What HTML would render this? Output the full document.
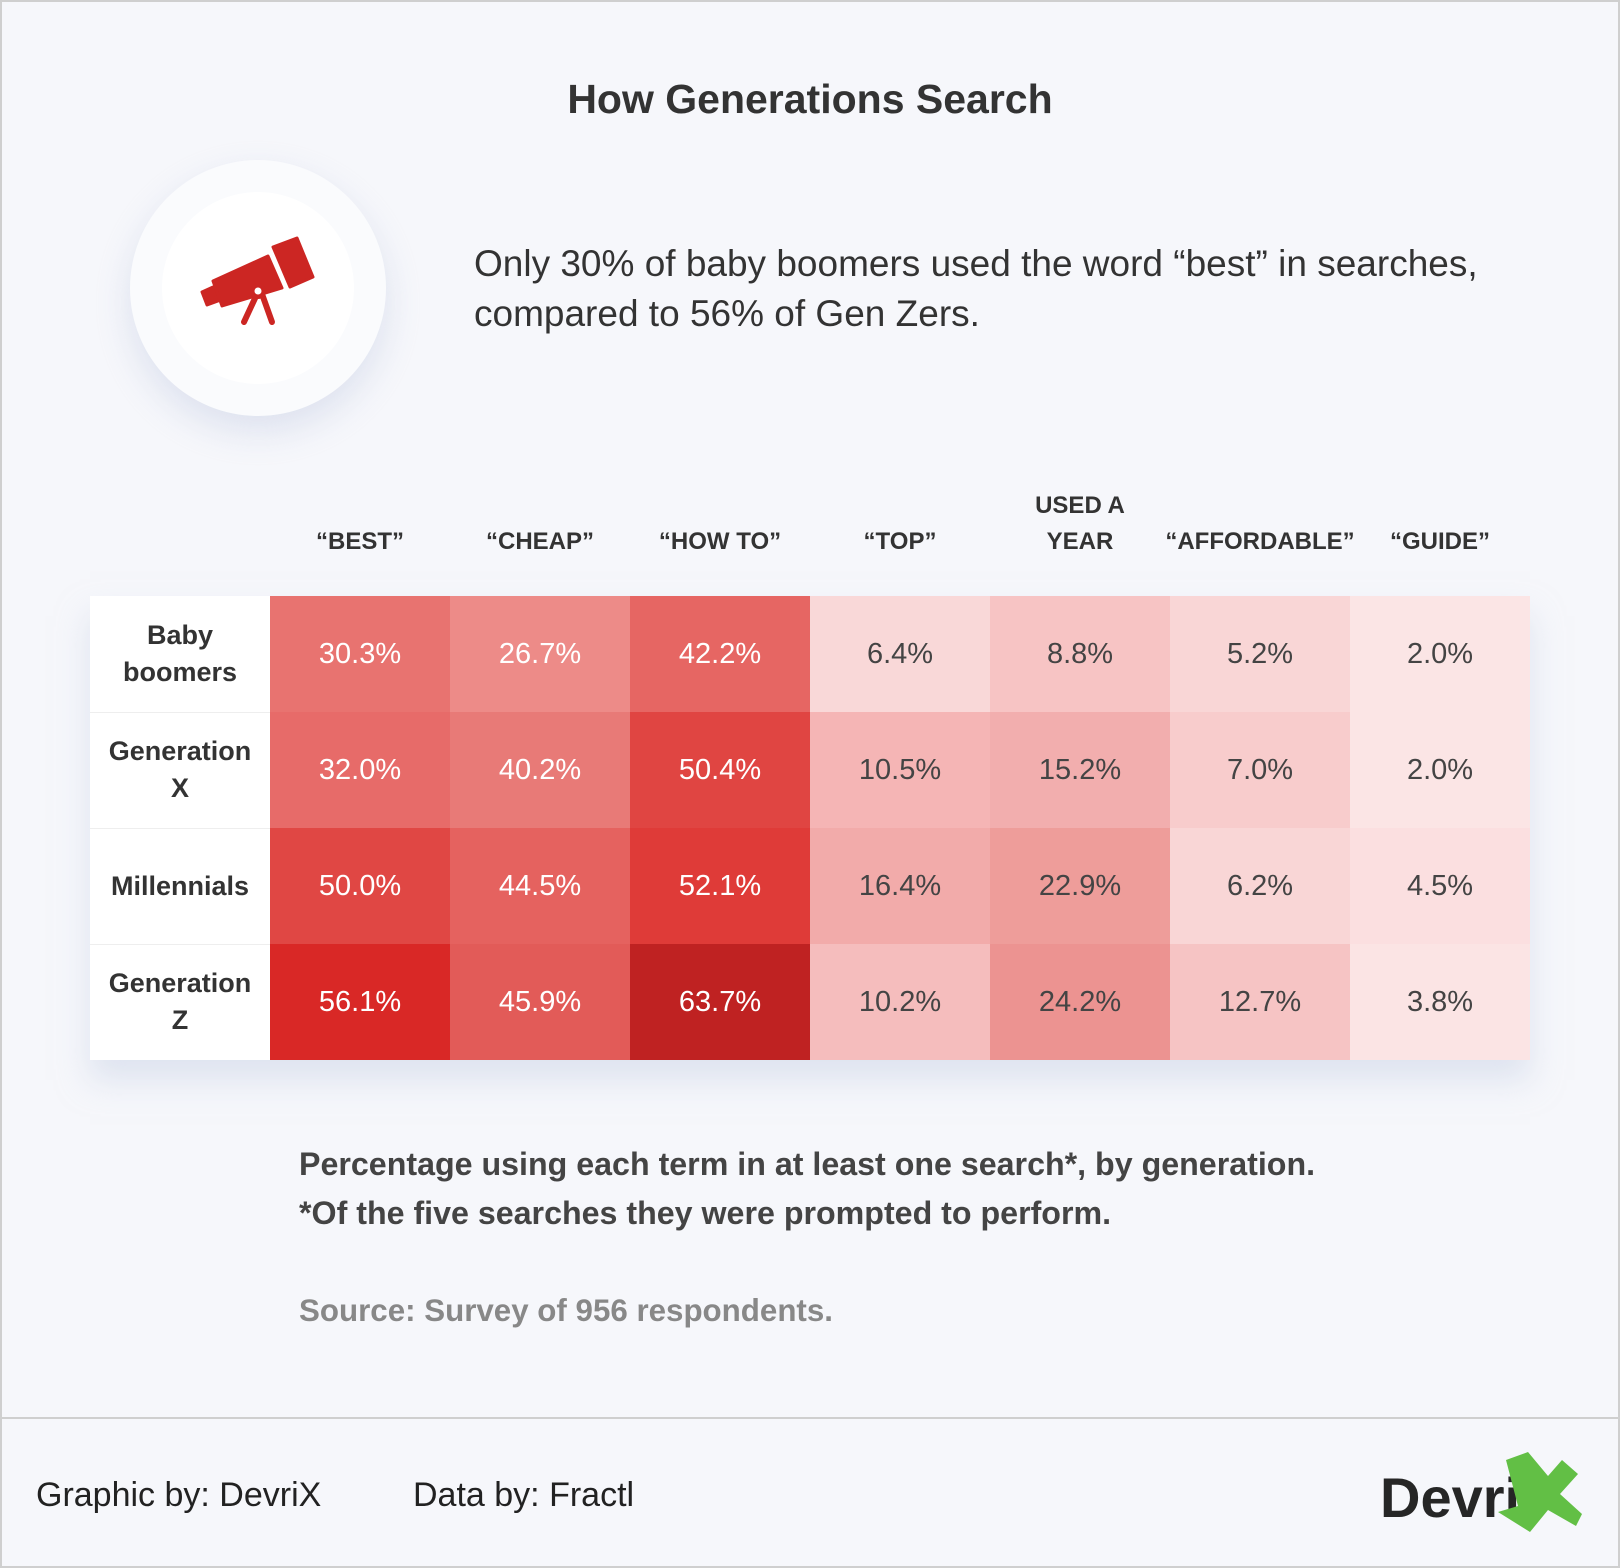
<!DOCTYPE html>
<html><head><meta charset="utf-8"><style>
*{margin:0;padding:0;box-sizing:border-box}
body{width:1620px;height:1568px;background:#f6f7fb;font-family:"Liberation Sans",sans-serif;color:#333;position:relative;overflow:hidden}
.frame{position:absolute;left:0;top:0;width:1620px;height:1568px;border:2px solid #cfcfcf}
.abs{position:absolute}
.title{top:76px;left:0;width:1620px;text-align:center;font-size:41px;font-weight:bold;color:#333}
.sub{left:474px;top:239px;font-size:37px;line-height:50px;color:#333}
.hd{position:absolute;width:180px;text-align:center;font-size:24px;font-weight:bold;color:#333;line-height:36px}
table{position:absolute;left:90px;top:596px;border-collapse:collapse;box-shadow:0 20px 30px rgba(200,210,230,.5)}
td{width:180px;height:116px;text-align:center;font-size:29px;color:#fff}
td.l{background:#fff;color:#333;font-weight:bold;font-size:27px;line-height:37px;border-bottom:1px solid #eee}
td.d{color:#444}
.cap{left:299px;top:1140px;font-size:32.2px;font-weight:bold;line-height:49px;color:#444}
.src{left:299px;top:1293px;font-size:31.3px;font-weight:bold;color:#888}
.line{left:0;top:1417px;width:1620px;height:2px;background:#cfcfcf}
.ft{top:1476px;font-size:34px;color:#222}
</style></head><body>
<div class="frame"></div>
<div class="abs title">How Generations Search</div>
<div class="abs" style="left:130px;top:160px;width:256px;height:256px;border-radius:50%;background:#fafbfd;box-shadow:0 15px 35px rgba(190,200,225,.45)"></div>
<div class="abs" style="left:162px;top:192px;width:192px;height:192px;border-radius:50%;background:#fff"></div>
<svg class="abs" style="left:0;top:0" width="400" height="400" viewBox="0 0 400 400">
<g fill="#cc2623" stroke="#cc2623" stroke-width="3" stroke-linejoin="round">
<polygon points="202,292 213,287 218,301 207,305"/>
<polygon points="213,281 268,256 282,288 222,306"/>
<polygon points="273,247 297,238 313,277 290,287"/>
</g>
<g stroke="#cc2623" stroke-width="6" stroke-linecap="round">
<line x1="257" y1="294" x2="244" y2="322"/>
<line x1="262" y1="294" x2="272" y2="322"/>
</g>
<circle cx="258" cy="291" r="8" fill="#cc2623"/>
<circle cx="258" cy="291" r="3.5" fill="#fff"/>
</svg>
<div class="abs sub">Only 30% of baby boomers used the word “best” in searches,<br>compared to 56% of Gen Zers.</div>
<div class="hd" style="left:270px;top:524px">“BEST”</div>
<div class="hd" style="left:450px;top:524px">“CHEAP”</div>
<div class="hd" style="left:630px;top:524px">“HOW TO”</div>
<div class="hd" style="left:810px;top:524px">“TOP”</div>
<div class="hd" style="left:990px;top:488px">USED A<br>YEAR</div>
<div class="hd" style="left:1170px;top:524px;width:190px;margin-left:-5px">“AFFORDABLE”</div>
<div class="hd" style="left:1350px;top:524px">“GUIDE”</div>
<table>
<tr><td class="l">Baby<br>boomers</td><td style="background:#e87370">30.3%</td><td style="background:#ed8b88">26.7%</td><td style="background:#e66663">42.2%</td><td class="d" style="background:#f9d8d8">6.4%</td><td class="d" style="background:#f7c4c4">8.8%</td><td class="d" style="background:#f9d6d6">5.2%</td><td class="d" style="background:#fbe5e5">2.0%</td></tr>
<tr><td class="l">Generation<br>X</td><td style="background:#e76b69">32.0%</td><td style="background:#e87a77">40.2%</td><td style="background:#e04542">50.4%</td><td class="d" style="background:#f5b5b5">10.5%</td><td class="d" style="background:#f2aeae">15.2%</td><td class="d" style="background:#f8cccc">7.0%</td><td class="d" style="background:#fbe5e5">2.0%</td></tr>
<tr><td class="l">Millennials</td><td style="background:#e04744">50.0%</td><td style="background:#e5625f">44.5%</td><td style="background:#df3b38">52.1%</td><td class="d" style="background:#f2abaa">16.4%</td><td class="d" style="background:#ee9d9a">22.9%</td><td class="d" style="background:#f9d6d6">6.2%</td><td class="d" style="background:#fbdfe0">4.5%</td></tr>
<tr><td class="l" style="border:none">Generation<br>Z</td><td style="background:#d92826">56.1%</td><td style="background:#e25b58">45.9%</td><td style="background:#bf2222">63.7%</td><td class="d" style="background:#f5bdbd">10.2%</td><td class="d" style="background:#ec9391">24.2%</td><td class="d" style="background:#f6c4c4">12.7%</td><td class="d" style="background:#fbe4e4">3.8%</td></tr>
</table>
<div class="abs cap">Percentage using each term in at least one search*, by generation.<br>*Of the five searches they were prompted to perform.</div>
<div class="abs src">Source: Survey of 956 respondents.</div>
<div class="abs line"></div>
<div class="abs ft" style="left:36px">Graphic by: DevriX</div>
<div class="abs ft" style="left:413px">Data by: Fractl</div>
<div class="abs" style="left:1380px;top:1465px;font-size:56px;font-weight:bold;color:#262626">Devri</div>
<svg class="abs" style="left:1498px;top:1450px" width="86" height="84" viewBox="0 0 86 84">
<polygon fill="#62bf45" points="8,10 30,2 50,26 64,10 80,24 62,44 84,64 78,76 50,60 32,82 0,62 20,56" />
</svg>
</body></html>
